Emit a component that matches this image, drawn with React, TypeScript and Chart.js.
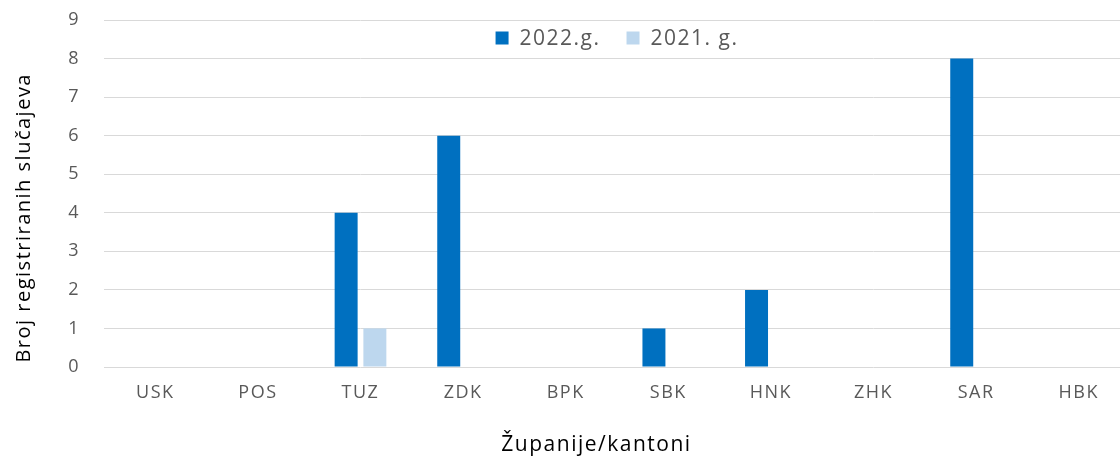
import React, { useEffect, useRef } from "react";
import { Chart, registerables } from "chart.js";

Chart.register(...registerables);

const categories = ["USK", "POS", "TUZ", "ZDK", "BPK", "SBK", "HNK", "ZHK", "SAR", "HBK"];
const series2022 = [0, 0, 4, 6, 0, 1, 2, 0, 8, 0];
const series2021 = [0, 0, 1, 0, 0, 0, 0, 0, 0, 0];
const yTicks = [0, 1, 2, 3, 4, 5, 6, 7, 8, 9];
const xTitle = "Županije/kantoni";
const yTitle = "Broj registriranih slučajeva";

const FONT = "'Open Sans', sans-serif";

const spacing = {
  id: "spacing",
  beforeUpdate(chart: any) { chart.ctx.letterSpacing = "1.5px"; },
  beforeDraw(chart: any) { chart.ctx.letterSpacing = "1.5px"; },
};

const titlesAndLegend = {
  id: "titlesAndLegend",
  afterDraw(chart: any) {
    const ctx = chart.ctx;
    const area = chart.chartArea;
    ctx.save();
    ctx.letterSpacing = "1.5px";
    // legend
    ctx.font = `21px ${FONT}`;
    ctx.textBaseline = "middle";
    ctx.textAlign = "left";
    const box = 13;
    const gapText = 11;
    const gapItem = 26;
    const items = chart.data.datasets.map((d: any) => ({
      label: d.label,
      color: d.backgroundColor,
      w: ctx.measureText(d.label).width,
    }));
    const total = items.reduce((a: number, it: any) => a + box + gapText + it.w, 0) + gapItem * (items.length - 1);
    let x = (area.left + area.right) / 2 - total / 2;
    const y = area.top + 18;
    items.forEach((it: any) => {
      ctx.fillStyle = it.color;
      ctx.fillRect(x, y - box / 2, box, box);
      x += box + gapText;
      ctx.fillStyle = "#595959";
      ctx.fillText(it.label, x, y + 1);
      x += it.w + gapItem;
    });
    // axis titles
    ctx.fillStyle = "#000";
    ctx.font = `21px ${FONT}`;
    ctx.textAlign = "center";
    ctx.textBaseline = "middle";
    ctx.fillText(xTitle, area.left + (area.right - area.left) * 0.48, area.bottom + 78);
    ctx.translate(24, area.top + (area.bottom - area.top) * 0.57);
    ctx.rotate(-Math.PI / 2);
    ctx.font = `20px ${FONT}`;
    ctx.fillText(yTitle, 0, 0);
    ctx.restore();
  },
};

export default function App() {
  const ref = useRef<HTMLCanvasElement | null>(null);
  useEffect(() => {
    if (!ref.current) return;
    const chart = new Chart(ref.current, {
      type: "bar",
      data: {
        labels: categories,
        datasets: [
          { label: "2022.g.", data: series2022, backgroundColor: "#0070C0", barPercentage: 0.8, categoryPercentage: 0.56 },
          { label: "2021. g.", data: series2021, backgroundColor: "#BDD7EE", barPercentage: 0.8, categoryPercentage: 0.56 },
        ],
      },
      plugins: [spacing, titlesAndLegend],
      options: {
        animation: false,
        responsive: false,
        maintainAspectRatio: false,
        layout: { padding: { left: 0, top: 20, right: 0, bottom: 0 } },
        plugins: {
          legend: { display: false },
          tooltip: { enabled: false },
        },
        scales: {
          x: {
            grid: { display: false },
            border: { display: false },
            ticks: { color: "#595959", font: { family: FONT, size: 18 }, padding: 7 },
            afterFit: (s: any) => { s.height = 89; s.paddingLeft = 0; s.paddingRight = 0; },
          },
          y: {
            min: 0,
            max: 9,
            afterBuildTicks: (s: any) => { s.ticks = yTicks.map((v) => ({ value: v })); },
            grid: { color: "#D9D9D9", lineWidth: 1, drawTicks: false },
            border: { display: false },
            ticks: { color: "#595959", font: { family: FONT, size: 18 }, padding: 24 },
            afterFit: (s: any) => { s.width = 104; s.paddingTop = 0; s.paddingBottom = 0; },
          },
        },
      },
    });
    return () => chart.destroy();
  }, []);
  return (
    <div style={{ position: "fixed", left: 0, top: 0, width: 1120, height: 456, overflow: "hidden", background: "#fff" }}>
      <canvas ref={ref} width={1130} height={456} style={{ display: "block" }} />
    </div>
  );
}
